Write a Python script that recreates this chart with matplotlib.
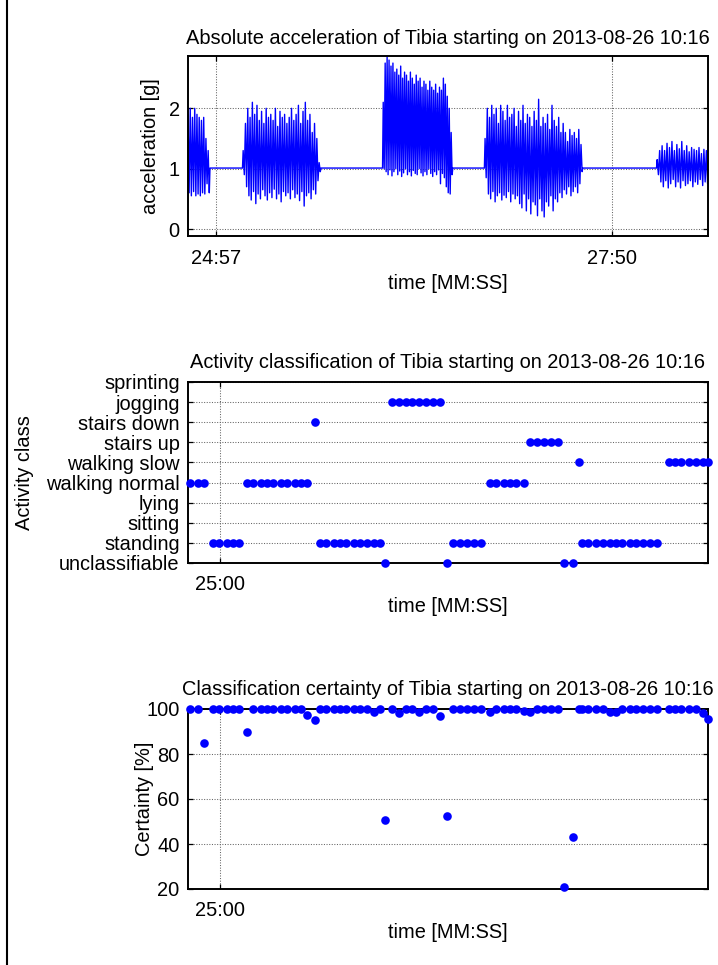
import numpy as np
import matplotlib
matplotlib.use('Agg')
import matplotlib.pyplot as plt
from matplotlib.ticker import FixedLocator, FuncFormatter
from matplotlib.lines import Line2D

plt.rcParams['font.family'] = ['Liberation Sans', 'DejaVu Sans']
plt.rcParams['font.size'] = 14.4

# ---------------- data ----------------
title_acc = "Absolute acceleration of Tibia starting on 2013-08-26 10:16"
title_act = "Activity classification of Tibia starting on 2013-08-26 10:16"
title_cert = "Classification certainty of Tibia starting on 2013-08-26 10:16"

class_names = ['unclassifiable', 'standing', 'sitting', 'lying', 'walking normal',
               'walking slow', 'stairs up', 'stairs down', 'jogging', 'sprinting']

# time in seconds (MM*60 + SS) of each classification window
class_times = [1486.9, 1490.4, 1493.0,
               1496.9, 1499.6, 1502.9, 1505.8, 1508.4,
               1511.9, 1514.5, 1517.8, 1520.7, 1523.3, 1526.8, 1529.4, 1532.8, 1535.5, 1538.1,
               1541.6,
               1543.7, 1546.4, 1549.8, 1552.4, 1555.0, 1558.5, 1561.2, 1564.4, 1567.3, 1569.9,
               1572.1,
               1575.3, 1578.2, 1581.3, 1584.0, 1586.9, 1590.0, 1592.9, 1596.1,
               1599.0,
               1601.7, 1604.8, 1607.8, 1611.1, 1614.0,
               1618.0, 1620.6, 1624.1, 1626.7, 1629.3, 1632.8,
               1635.4, 1638.5, 1641.5, 1644.6, 1647.7,
               1650.4, 1654.2,
               1657.0,
               1658.3, 1661.0, 1664.4, 1667.2, 1670.4, 1673.0, 1675.9, 1679.0, 1681.9, 1685.1, 1688.0, 1690.8,
               1696.1, 1698.8, 1701.7, 1705.0, 1707.9, 1711.1, 1713.5]

class_index = [4, 4, 4,
               1, 1, 1, 1, 1,
               4, 4, 4, 4, 4, 4, 4, 4, 4, 4,
               7,
               1, 1, 1, 1, 1, 1, 1, 1, 1, 1,
               0,
               8, 8, 8, 8, 8, 8, 8, 8,
               0,
               1, 1, 1, 1, 1,
               4, 4, 4, 4, 4, 4,
               6, 6, 6, 6, 6,
               0, 0,
               5,
               1, 1, 1, 1, 1, 1, 1, 1, 1, 1, 1, 1,
               5, 5, 5, 5, 5, 5, 5]

certainty = [100, 100, 85,
             100, 100, 100, 100, 100,
             90, 100, 100, 100, 100, 100, 100, 100, 100, 97.5,
             95,
             100, 100, 100, 100, 100, 100, 100, 100, 98.8, 100,
             50.7,
             100, 98.2, 100, 100, 98.8, 100, 100, 97,
             52.5,
             100, 100, 100, 100, 100,
             98.7, 100, 100, 100, 100, 99.3,
             98.7, 100, 100, 100, 100,
             21, 43.2,
             100,
             100, 100, 100, 100, 98.7, 98.7, 100, 100, 100, 100, 100, 100,
             100, 100, 100, 100, 100, 98.4, 95.7]

# acceleration: resting level and active bursts (start, end in seconds; step peaks / troughs in g)
rest_level = 1.01
burst_ranges = [(1484.8, 1494.1), (1508.9, 1542.6), (1570.1, 1600.2),
                (1614.6, 1657.0), (1689.8, 1712.9)]
burst_peaks = [
    [1.9, 2.0, 1.85, 2.0, 1.9, 1.85, 1.8, 1.85, 1.5, 1.3],
    [1.3, 1.75, 2.0, 1.85, 2.1, 1.9, 2.05, 1.8, 1.95, 1.75, 2.0, 1.85, 1.9, 1.8, 2.0, 1.7, 1.95,
     1.85, 1.9, 1.75, 1.85, 2.0, 1.8, 1.9, 2.05, 1.75, 1.95, 2.1, 1.8, 1.9, 1.6, 1.75, 1.5, 1.1],
    [2.1, 2.75, 2.85, 2.8, 2.7, 2.75, 2.6, 2.65, 2.55, 2.7, 2.5, 2.6, 2.55, 2.45, 2.6, 2.5, 2.4,
     2.55, 2.45, 2.5, 2.35, 2.45, 2.4, 2.3, 2.45, 2.35, 2.3, 2.4, 2.25, 2.35, 2.3, 2.5, 2.4, 2.2,
     2.0, 1.6],
    [1.5, 2.0, 1.85, 2.05, 1.9, 2.0, 1.75, 2.05, 1.95, 1.8, 2.05, 1.85, 1.9, 2.0, 1.7, 1.95, 1.8,
     2.05, 1.75, 1.9, 1.85, 1.7, 1.95, 1.8, 2.15, 1.7, 1.85, 1.75, 1.9, 1.65, 2.05, 1.8, 1.7, 1.85,
     1.6, 1.75, 1.6, 1.45, 1.65, 1.55, 1.6, 1.5, 1.65, 1.4],
    [1.15, 1.3, 1.38, 1.3, 1.42, 1.35, 1.45, 1.3, 1.4, 1.33, 1.45, 1.3, 1.38, 1.28, 1.35, 1.32,
     1.3, 1.35, 1.25, 1.32, 1.3, 1.28],
]
burst_troughs = [
    [0.6, 0.55, 0.62, 0.55, 0.58, 0.55, 0.6, 0.58, 0.75, 0.6],
    [0.9, 0.7, 0.55, 0.48, 0.62, 0.42, 0.58, 0.5, 0.65, 0.55, 0.48, 0.6, 0.52, 0.66, 0.5, 0.58,
     0.45, 0.62, 0.55, 0.6, 0.5, 0.65, 0.52, 0.58, 0.47, 0.62, 0.38, 0.55, 0.6, 0.5, 0.65, 0.58,
     0.8, 0.95],
    [1.0, 0.95, 0.9, 0.98, 0.88, 0.95, 1.0, 0.9, 0.96, 0.87, 0.93, 1.0, 0.9, 0.95, 0.88, 0.97,
     0.92, 0.9, 1.0, 0.93, 0.88, 0.95, 0.9, 1.0, 0.92, 0.87, 0.95, 0.9, 0.98, 0.75, 0.92, 0.85,
     0.7, 0.6, 0.58, 0.9],
    [0.85, 0.58, 0.5, 0.62, 0.45, 0.55, 0.6, 0.48, 0.56, 0.52, 0.62, 0.45, 0.58, 0.5, 0.55, 0.42,
     0.35, 0.58, 0.3, 0.5, 0.25, 0.45, 0.4, 0.22, 0.5, 0.3, 0.2, 0.45, 0.38, 0.55, 0.3, 0.5, 0.45,
     0.6, 0.52, 0.65, 0.58, 0.7, 0.55, 0.62, 0.7, 0.6, 0.75, 0.95],
    [0.9, 0.78, 0.7, 0.8, 0.68, 0.75, 0.82, 0.7, 0.78, 0.68, 0.8, 0.72, 0.75, 0.8, 0.7, 0.78,
     0.74, 0.82, 0.72, 0.78, 0.75, 0.63],
]

acc_xticks = [1497, 1670]
act_xticks = [1500]
acc_yticks = [0, 1, 2]
cert_yticks = [20, 40, 60, 80, 100]

# ---------------- build acceleration trace ----------------
acc_t, acc_v = [], []
for (t0, t1), pk, tr in zip(burst_ranges, burst_peaks, burst_troughs):
    vals = []
    for p, q in zip(pk, tr):
        vals += [p, q]
    tt = np.linspace(t0, t1, len(vals))
    acc_t += [t0 - 0.3] + list(tt) + [t1 + 0.3]
    acc_v += [rest_level] + vals + [rest_level]

W, H = 718, 965
fig = plt.figure(figsize=(W / 100, H / 100), dpi=100)


def ax_rect(l, t, r, b):
    return [l / W, 1 - b / H, (r - l) / W, (b - t) / H]


def mmss(x, pos=None):
    s = int(round(x))
    return f"{s // 60:02d}:{s % 60:02d}"


def style(ax):
    for sp in ax.spines.values():
        sp.set_linewidth(1.4)
        sp.set_color('black')
    ax.tick_params(direction='in', top=True, right=True, length=3.5, width=0.9,
                   labelsize=14.4, pad=6)
    ax.tick_params(axis='x', pad=9)
    ax.grid(True, linestyle=(0, (1, 1.5)), color='0.4', linewidth=0.75)
    ax.set_axisbelow(True)
    ax.xaxis.set_major_formatter(FuncFormatter(mmss))


blue = (0, 0, 1)

# ---- panel 1: acceleration
ax1 = fig.add_axes(ax_rect(188, 56, 708, 236))
ax1.plot(acc_t, acc_v, color=blue, lw=1.0)
ax1.set_xlim(1484.8, 1712.0)
ax1.set_ylim(-0.116, 2.867)
ax1.xaxis.set_major_locator(FixedLocator(acc_xticks))
ax1.yaxis.set_major_locator(FixedLocator(acc_yticks))
style(ax1)
ax1.set_title(title_acc, fontsize=14.4, pad=9)

# ---- panel 2: activity class
ax2 = fig.add_axes(ax_rect(188, 382, 708, 563))
ax2.plot(class_times, class_index, 'o', color=blue, ms=6.2, mew=0, clip_on=False, zorder=5)
ax2.set_xlim(1486.0, 1713.3)
ax2.set_ylim(0, 9)
ax2.xaxis.set_major_locator(FixedLocator(act_xticks))
ax2.yaxis.set_major_locator(FixedLocator(range(len(class_names))))
ax2.set_yticklabels(class_names)
style(ax2)
ax2.set_title(title_act, fontsize=14.4, pad=10)

# ---- panel 3: certainty
ax3 = fig.add_axes(ax_rect(188, 709, 708, 889))
ax3.plot(class_times, certainty, 'o', color=blue, ms=6.2, mew=0, clip_on=False, zorder=5)
ax3.set_xlim(1486.0, 1713.3)
ax3.set_ylim(20, 100)
ax3.xaxis.set_major_locator(FixedLocator(act_xticks))
ax3.yaxis.set_major_locator(FixedLocator(cert_yticks))
style(ax3)
ax3.set_title(title_cert, fontsize=14.4, pad=10)

# axis labels
fig.text(448 / W, 1 - 283 / H, 'time [MM:SS]', ha='center', va='center', fontsize=14.4)
fig.text(448 / W, 1 - 607 / H, 'time [MM:SS]', ha='center', va='center', fontsize=14.4)
fig.text(448 / W, 1 - 933 / H, 'time [MM:SS]', ha='center', va='center', fontsize=14.4)
fig.text(150 / W, 1 - 146 / H, 'acceleration [g]', ha='center', va='center', rotation=90, fontsize=14.4)
fig.text(25 / W, 1 - 473 / H, 'Activity class', ha='center', va='center', rotation=90, fontsize=14.4)
fig.text(145 / W, 1 - 799 / H, 'Certainty [%]', ha='center', va='center', rotation=90, fontsize=14.4)

# figure frame line on the left
fig.add_artist(Line2D([7 / W, 7 / W], [0, 1], color='black', lw=1.5, transform=fig.transFigure))

fig.savefig('out.png', dpi=100)
